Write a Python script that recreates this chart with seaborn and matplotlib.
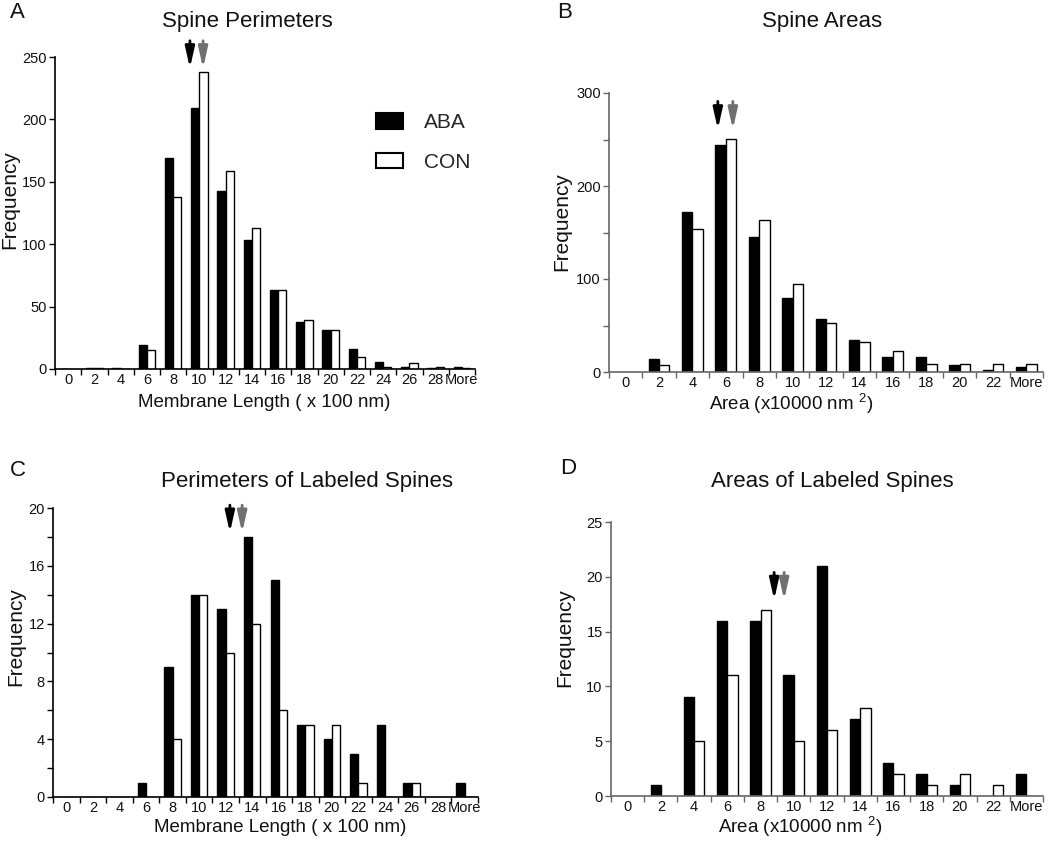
import numpy as np
import pandas as pd
import matplotlib
matplotlib.use("Agg")
import matplotlib.pyplot as plt
from matplotlib.patches import Patch
from matplotlib.ticker import MultipleLocator, FixedLocator
import seaborn as sns

# ---------------- data ----------------
perim_bins = ['0', '2', '4', '6', '8', '10', '12', '14', '16', '18', '20', '22', '24', '26', '28', 'More']
area_bins = ['0', '2', '4', '6', '8', '10', '12', '14', '16', '18', '20', '22', 'More']

A_aba = [0, 1, 1, 19, 169, 209, 143, 103, 63, 38, 31, 16, 6, 2, 1, 2]
A_con = [0, 1, 0, 15, 138, 238, 159, 113, 63, 39, 31, 10, 2, 5, 2, 1]

B_aba = [0, 14, 172, 244, 145, 80, 57, 34, 16, 16, 8, 2, 5]
B_con = [0, 7, 154, 251, 163, 95, 53, 32, 23, 9, 9, 9, 9]

C_aba = [0, 0, 0, 1, 9, 14, 13, 18, 15, 5, 4, 3, 5, 1, 0, 1]
C_con = [0, 0, 0, 0, 4, 14, 10, 12, 6, 5, 5, 1, 0, 1, 0, 0]

D_aba = [0, 1, 9, 16, 16, 11, 21, 7, 3, 2, 1, 0, 2]
D_con = [0, 0, 5, 11, 17, 5, 6, 8, 2, 1, 2, 1, 0]

# mean markers (arrow x in bin-index units; ABA, CON) and arrow (tip, tail) heights
A_mean_pos = [4.64, 5.14]
B_mean_pos = [2.76, 3.21]
C_mean_pos = [6.16, 6.62]
D_mean_pos = [4.41, 4.71]
A_arrow_y = [241, 263]
B_arrow_y = [261, 291]
C_arrow_y = [18.3, 20.2]
D_arrow_y = [17.9, 20.4]

groups = ['ABA', 'CON']
# --------------------------------------

sns.set_theme(style="white")
plt.rcParams['font.family'] = ['Liberation Sans', 'DejaVu Sans']
plt.rcParams['mathtext.fontset'] = 'custom'
plt.rcParams['mathtext.rm'] = 'Liberation Sans'
plt.rcParams['mathtext.it'] = 'Liberation Sans'

W, H = 1050, 841
fig = plt.figure(figsize=(W / 100, H / 100), dpi=100)
fig.patch.set_facecolor('white')


def ax_rect(l, r, t, b):
    return [l / W, 1 - b / H, (r - l) / W, (b - t) / H]


def make_df(cats, aba, con):
    rows = []
    for c, a, k in zip(cats, aba, con):
        rows.append({'bin': c, 'group': 'ABA', 'count': a})
        rows.append({'bin': c, 'group': 'CON', 'count': k})
    return pd.DataFrame(rows)


def panel(rect, cats, aba, con, ymax, major, minor, mpos, ay, spine_color):
    ax = fig.add_axes(rect)
    df = make_df(cats, aba, con)
    sns.barplot(data=df, x='bin', y='count', hue='group', order=cats, hue_order=groups,
                palette={'ABA': 'black', 'CON': 'white'}, edgecolor='black', linewidth=1.0,
                width=0.62, gap=0, errorbar=None, legend=False, ax=ax)
    n = len(cats)
    ax.set_xlim(-0.5, n - 0.5)
    ax.set_ylim(0, ymax)
    ax.set_xlabel('')
    ax.set_ylabel('')
    for s in ['top', 'right']:
        ax.spines[s].set_visible(False)
    for s in ['left', 'bottom']:
        ax.spines[s].set_color(spine_color)
        ax.spines[s].set_linewidth(1.2)
    ax.yaxis.set_major_locator(MultipleLocator(major))
    ax.yaxis.set_minor_locator(MultipleLocator(minor))
    ax.tick_params(axis='y', which='both', direction='out', length=4, width=1,
                   color=spine_color, labelsize=10.5, pad=2, left=True, labelcolor='#111')
    ax.set_xticks(np.arange(n))
    ax.set_xticklabels(cats)
    ax.xaxis.set_minor_locator(FixedLocator(np.arange(n + 1) - 0.5))
    ax.tick_params(axis='x', which='major', length=0, labelsize=10.5, pad=3, labelcolor='#111')
    ax.tick_params(axis='x', which='minor', direction='out', length=4, width=1,
                   color=spine_color, bottom=True)
    cols = ['black', '#707070']
    for x, c in zip(mpos, cols):
        ax.annotate('', xy=(x, ay[0]), xytext=(x, ay[1]),
                    arrowprops=dict(arrowstyle='-|>,head_length=1.25,head_width=0.28',
                                    mutation_scale=10, lw=2.0, color=c,
                                    shrinkA=0, shrinkB=0),
                    annotation_clip=False)
    ax.set_facecolor('white')
    return ax


axA = panel(ax_rect(55, 475, 57, 369), perim_bins, A_aba, A_con, 250, 50, 50,
            A_mean_pos, A_arrow_y, 'black')
axB = panel(ax_rect(609, 1043, 93, 372), area_bins, B_aba, B_con, 300, 100, 50,
            B_mean_pos, B_arrow_y, '#666666')
axC = panel(ax_rect(53, 478, 508, 797), perim_bins, C_aba, C_con, 20, 4, 2,
            C_mean_pos, C_arrow_y, 'black')
axD = panel(ax_rect(611, 1043, 522, 796), area_bins, D_aba, D_con, 25, 5, 5,
            D_mean_pos, D_arrow_y, '#666666')

# legend in panel A
handles = [Patch(facecolor='black', edgecolor='black', lw=1.5, label='ABA'),
           Patch(facecolor='white', edgecolor='black', lw=1.5, label='CON')]
axA.legend(handles=handles, loc='upper left', bbox_to_anchor=(0.765, 0.82),
           frameon=False, fontsize=15, handlelength=1.3, handleheight=0.75,
           handletextpad=1.0, labelspacing=1.0, borderpad=0, borderaxespad=0)


def ft(x, y, s, **kw):
    fig.text(x / W, 1 - y / H, s, ha='center', va='center', color='#111', **kw)


# panel letters
ft(17, 13, 'A', fontsize=16)
ft(565, 13, 'B', fontsize=16)
ft(18, 470, 'C', fontsize=16)
ft(568, 469, 'D', fontsize=16)

# titles
ft(247, 22, 'Spine Perimeters', fontsize=16)
ft(822, 21, 'Spine Areas', fontsize=16)
ft(307, 481, 'Perimeters of Labeled Spines', fontsize=16)
ft(832, 481, 'Areas of Labeled Spines', fontsize=16)

# y labels
ft(10, 200, 'Frequency', fontsize=15, rotation=90)
ft(562, 222, 'Frequency', fontsize=15, rotation=90)
ft(16, 637, 'Frequency', fontsize=15, rotation=90)
ft(565, 638, 'Frequency', fontsize=15, rotation=90)

# x labels
ft(264, 403, 'Membrane Length ( x 100 nm)', fontsize=13.5)
ft(791, 404, r'Area (x10000 nm $^{\mathregular{2}}$)', fontsize=13.5)
ft(280, 827, 'Membrane Length ( x 100 nm)', fontsize=13.5)
ft(800, 827, r'Area (x10000 nm $^{\mathregular{2}}$)', fontsize=13.5)

fig.savefig('out.png', dpi=100, facecolor='white')
